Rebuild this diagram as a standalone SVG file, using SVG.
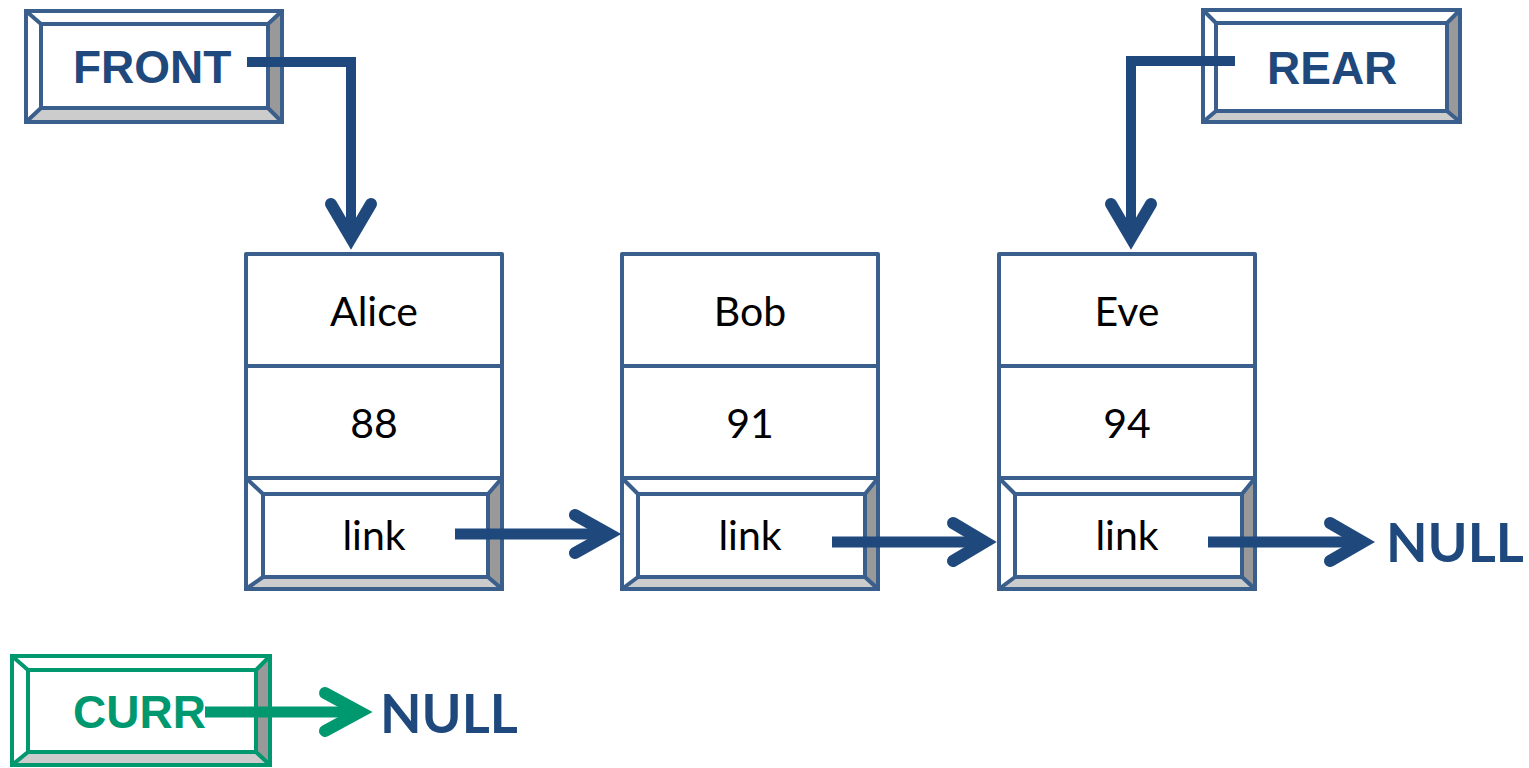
<svg xmlns="http://www.w3.org/2000/svg" width="1529" height="768" viewBox="0 0 1529 768">
<style>
.bx{fill:#fff;stroke:#3B5F8D;stroke-width:4;stroke-linejoin:round}
.gbx{fill:#fff;stroke:#00986F;stroke-width:4;stroke-linejoin:round}
.dk{fill:#999999}
.lt{fill:#CCCCCC}
.ln{stroke:#3B5F8D;stroke-width:4;fill:none}
.gln{stroke:#00986F;stroke-width:4;fill:none}
.val{font-family:Lato,"Open Sans","Liberation Sans",sans-serif;font-size:41px;fill:#000;text-anchor:middle}
.ptr{font-family:"Liberation Sans",Arial,sans-serif;font-weight:bold;font-size:46px;fill:#1F497D}
.null{font-family:Lato,"Open Sans","Liberation Sans",sans-serif;font-weight:bold;font-size:54px;fill:#1F497D}
.sh{stroke:#1F497D;stroke-width:10;fill:none;stroke-linejoin:miter}
.hd{stroke:#1F497D;stroke-width:12;fill:none;stroke-linecap:round;stroke-linejoin:miter;stroke-miterlimit:10}
.gsh{stroke:#00986F;stroke-width:10;fill:none}
.ghd{stroke:#00986F;stroke-width:12;fill:none;stroke-linecap:round;stroke-linejoin:miter;stroke-miterlimit:10}
</style>

<g id="front">
<rect class="bx" x="26" y="11" width="256" height="111"/>
<polygon class="dk" points="282,11 282,122 268,108 268,24"/>
<polygon class="lt" points="26,122 282,122 268,108 41,108"/>
<rect class="ln" x="26" y="11" width="256" height="111"/>
<rect class="ln" x="41" y="24" width="227" height="84"/>
<path class="ln" d="M26,11L41,24M282,11L268,24M26,122L41,108M282,122L268,108"/>
<text class="ptr" x="73" y="83">FRONT</text>
</g>

<g id="rear">
<rect class="bx" x="1203" y="10" width="257" height="112"/>
<polygon class="dk" points="1460,10 1460,122 1447,111 1447,23"/>
<polygon class="lt" points="1203,122 1460,122 1447,111 1216,111"/>
<rect class="ln" x="1203" y="10" width="257" height="112"/>
<rect class="ln" x="1216" y="23" width="231" height="88"/>
<path class="ln" d="M1203,10L1216,23M1460,10L1447,23M1203,122L1216,111M1460,122L1447,111"/>
<text class="ptr" x="1267" y="84">REAR</text>
</g>

<g id="curr">
<rect class="gbx" x="12" y="656" width="258" height="109"/>
<polygon class="dk" points="270,656 270,765 256,752 256,670"/>
<polygon class="lt" points="12,765 270,765 256,752 28,752"/>
<rect class="gln" x="12" y="656" width="258" height="109"/>
<rect class="gln" x="28" y="670" width="228" height="82"/>
<path class="gln" d="M12,656L28,670M270,656L256,670M12,765L28,752M270,765L256,752"/>
<text class="ptr" x="73" y="728" style="fill:#00986F">CURR</text>
</g>

<g id="node-alice">
<rect class="bx" x="246" y="254" width="256" height="335"/>
<path class="ln" d="M246,366H502M246,478H502"/>
<polygon class="dk" points="502,478 502,589 488,577 488,494"/>
<polygon class="lt" points="246,589 502,589 488,577 263,577"/>
<rect class="ln" x="246" y="478" width="256" height="111"/>
<rect class="ln" x="263" y="494" width="225" height="83"/>
<path class="ln" d="M246,478L263,494M502,478L488,494M246,589L263,577M502,589L488,577"/>
<text class="val" x="374" y="326">Alice</text>
<text class="val" x="374" y="438">88</text>
<text class="val" x="374" y="550">link</text>
</g>

<g id="node-bob">
<rect class="bx" x="622" y="254" width="256" height="335"/>
<path class="ln" d="M622,366H878M622,478H878"/>
<polygon class="dk" points="878,478 878,589 865,577 865,494"/>
<polygon class="lt" points="622,589 878,589 865,577 638,577"/>
<rect class="ln" x="622" y="478" width="256" height="111"/>
<rect class="ln" x="638" y="494" width="227" height="83"/>
<path class="ln" d="M622,478L638,494M878,478L865,494M622,589L638,577M878,589L865,577"/>
<text class="val" x="750" y="326">Bob</text>
<text class="val" x="750" y="438">91</text>
<text class="val" x="750" y="550">link</text>
</g>

<g id="node-eve">
<rect class="bx" x="999" y="254" width="256" height="335"/>
<path class="ln" d="M999,366H1255M999,478H1255"/>
<polygon class="dk" points="1255,478 1255,589 1242,577 1242,494"/>
<polygon class="lt" points="999,589 1255,589 1242,577 1015,577"/>
<rect class="ln" x="999" y="478" width="256" height="111"/>
<rect class="ln" x="1015" y="494" width="227" height="83"/>
<path class="ln" d="M999,478L1015,494M1255,478L1242,494M999,589L1015,577M1255,589L1242,577"/>
<text class="val" x="1127" y="326">Eve</text>
<text class="val" x="1127" y="438">94</text>
<text class="val" x="1127" y="550">link</text>
</g>

<g id="null-right"><text class="null" x="1386" y="562">NULL</text></g>
<g id="null-curr"><text class="null" x="380" y="733">NULL</text></g>

<g id="connectors">
<polyline class="sh" points="247,62 351,62 351,240"/>
<polyline class="hd" points="331,204 351,238 371,204"/>
<polyline class="sh" points="1235,61 1131,61 1131,240"/>
<polyline class="hd" points="1111,204 1131,238 1151,204"/>
<line class="sh" x1="455" y1="534" x2="605" y2="534" style="stroke-width:11"/>
<polyline class="hd" points="575,515 609,534 575,553"/>
<line class="sh" x1="832" y1="542" x2="980" y2="542" style="stroke-width:11"/>
<polyline class="hd" points="953,523 985,542 953,561"/>
<line class="sh" x1="1208" y1="542" x2="1358" y2="542" style="stroke-width:11"/>
<polyline class="hd" points="1330,523 1363,542 1330,561"/>
<line class="gsh" x1="205" y1="712" x2="355" y2="712" style="stroke-width:11"/>
<polyline class="ghd" points="325,693 360,712 325,731"/>
</g>
</svg>
